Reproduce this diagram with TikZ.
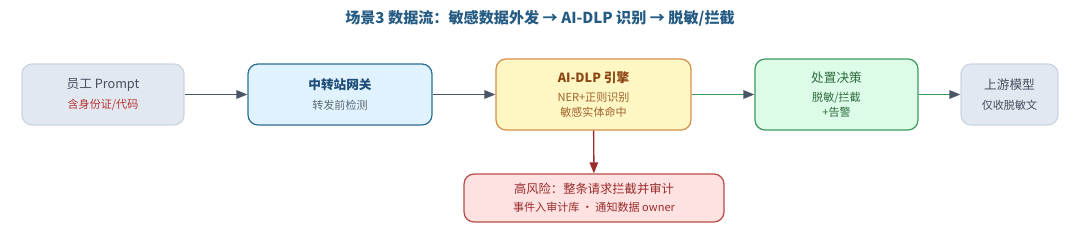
\documentclass[tikz,border=0pt]{standalone}
\usepackage{fontspec}
\setmainfont{Noto Sans CJK SC}
\usetikzlibrary{arrows.meta,positioning}
\definecolor{titleblue}{RGB}{38,92,132}
\definecolor{slate}{RGB}{74,85,104}
\definecolor{greyfill}{RGB}{226,232,240}
\definecolor{greyline}{RGB}{203,213,225}
\definecolor{greytxt}{RGB}{70,80,95}
\definecolor{redtxt}{RGB}{184,50,50}
\definecolor{gwfill}{RGB}{224,242,254}
\definecolor{gwline}{RGB}{44,110,145}
\definecolor{gwtxt}{RGB}{30,78,121}
\definecolor{gwsub}{RGB}{95,105,118}
\definecolor{dlpfill}{RGB}{254,246,195}
\definecolor{dlpline}{RGB}{212,144,74}
\definecolor{dlptxt}{RGB}{140,70,20}
\definecolor{dlpsub}{RGB}{160,100,45}
\definecolor{actfill}{RGB}{220,252,231}
\definecolor{actline}{RGB}{61,154,94}
\definecolor{acttxt}{RGB}{47,107,63}
\definecolor{riskfill}{RGB}{254,226,226}
\definecolor{riskline}{RGB}{184,74,74}
\definecolor{risktxt}{RGB}{155,44,44}

\begin{document}
\begin{tikzpicture}[x=0.02cm, y=-0.02cm,
  box/.style={draw, line width=0.7pt, rounded corners=0.2cm, align=center, inner sep=0pt, font=\fontsize{6.3}{8.5}\selectfont},
  arr/.style={-{Triangle[length=2.2mm, width=1.7mm]}, line width=0.8pt, slate},
  garr/.style={-{Triangle[length=2.2mm, width=1.7mm, color=slate]}, line width=0.8pt, actline},
  rarr/.style={-{Triangle[length=2.2mm, width=1.7mm]}, line width=0.8pt, risktxt}
]
\useasboundingbox (0,0) rectangle (1080,248);

% ---- title ----
\node[font=\fontsize{8.6}{10}\selectfont\bfseries, text=titleblue] (title) at (540,18) {场景3 数据流：敏感数据外发 → AI-DLP 识别 → 脱敏/拦截};

% ---- main flow ----
\node[box, draw=greyline, fill=greyfill, minimum width=3.24cm, minimum height=1.22cm] (prompt) at (103,94.5)
  {{\fontsize{7.2}{9}\selectfont\color{greytxt}员工 Prompt}\\[2.6pt]\color{redtxt}含身份证/代码};
\node[box, draw=gwline, fill=gwfill, minimum width=3.68cm, minimum height=1.22cm] (gateway) at (340,94.5)
  {{\fontsize{7.2}{9}\selectfont\bfseries\color{gwtxt}中转站网关}\\[2.6pt]\color{gwsub}转发前检测};
\node[box, draw=dlpline, fill=dlpfill, minimum width=3.9cm, minimum height=1.42cm] (dlp) at (593.5,94.5)
  {{\fontsize{7.2}{9}\selectfont\bfseries\color{dlptxt}AI-DLP 引擎}\\[2.6pt]\color{dlpsub}NER+正则识别\\\color{dlpsub}敏感实体命中};
\node[box, draw=actline, fill=actfill, minimum width=3.26cm, minimum height=1.42cm] (decide) at (836.5,94.5)
  {{\fontsize{7.2}{9}\selectfont\color{acttxt}处置决策}\\[2.6pt]\color{acttxt}脱敏/拦截\\\color{acttxt}+告警};
\node[box, draw=greyline, fill=greyfill, minimum width=1.94cm, minimum height=1.22cm] (upstream) at (1009.5,94.5)
  {{\fontsize{7.2}{9}\selectfont\color{greytxt}上游模型}\\[2.6pt]\color{greytxt}仅收脱敏文};

% ---- high risk branch ----
\node[box, draw=riskline, fill=riskfill, minimum width=5.2cm, minimum height=0.96cm] (block) at (594,198)
  {{\fontsize{7}{9}\selectfont\color{risktxt}高风险：整条请求拦截并审计}\\[1.6pt]\color{risktxt}事件入审计库 · 通知数据 owner};

% ---- connectors ----
\draw[arr] (prompt) -- (gateway);
\draw[arr] (gateway) -- (dlp);
\draw[garr] (dlp) -- (decide);
\draw[garr] (decide) -- (upstream);
\draw[rarr] (dlp) -- (block);
\end{tikzpicture}
\end{document}
